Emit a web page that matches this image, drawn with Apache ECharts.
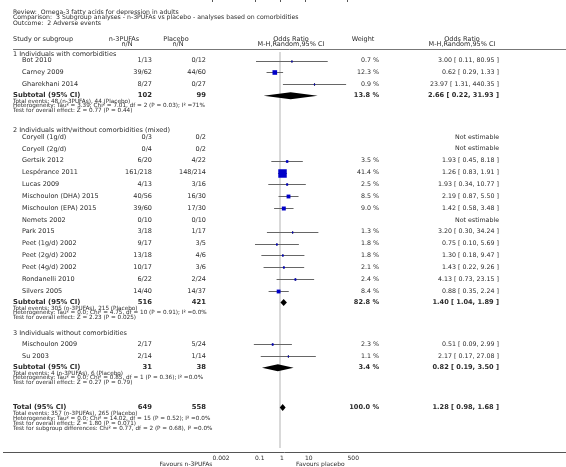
<!DOCTYPE html>
<html><head><meta charset="utf-8">
<script src="https://cdn.jsdelivr.net/npm/echarts@6/dist/echarts.min.js"></script>
<style>html,body{margin:0;padding:0;background:#fff}#c{width:566px;height:467px}</style>
</head><body><div id="c"></div>
<script>
// ---------------- DATA ----------------
const titleLines = [
  'Review:  Omega-3 fatty acids for depression in adults',
  'Comparison:  3 Subgroup analyses - n-3PUFAs vs placebo - analyses based on comorbidities',
  'Outcome:  2 Adverse events'
];
const groupTitles = [
  '1 Individuals with comorbidities',
  '2 Individuals with/without comorbidities (mixed)',
  '3 Individuals without comorbidities'
];
const studyNames = ['Bot 2010','Carney 2009','Gharekhani 2014',
  'Coryell (1g/d)','Coryell (2g/d)','Gertsik 2012','Lespérance 2011','Lucas 2009','Mischoulon (DHA) 2015','Mischoulon (EPA) 2015','Nemets 2002','Park 2015','Peet (1g/d) 2002','Peet (2g/d) 2002','Peet (4g/d) 2002','Rondanelli 2010','Silvers 2005',
  'Mischoulon 2009','Su 2003'];
const studyGroup = [0,0,0, 1,1,1,1,1,1,1,1,1,1,1,1,1,1, 2,2];
const expNN = ['1/13','39/62','8/27','0/3','0/4','6/20','161/218','4/13','40/56','39/60','0/10','3/18','9/17','13/18','10/17','6/22','14/40','2/17','2/14'];
const ctlNN = ['0/12','44/60','0/27','0/2','0/2','4/22','148/214','3/16','16/30','17/30','0/10','1/17','3/5','4/6','3/6','2/24','14/37','5/24','1/14'];
const studyWeight = [0.7,12.3,0.9, null,null,3.5,41.4,2.5,8.5,9.0,null,1.3,1.8,1.8,2.1,2.4,8.4, 2.3,1.1];
const studyOR = [3.00,0.62,23.97, null,null,1.93,1.26,1.93,2.19,1.42,null,3.20,0.75,1.30,1.43,4.13,0.88, 0.51,2.17];
const studyLo = [0.11,0.29,1.31, null,null,0.45,0.83,0.34,0.87,0.58,null,0.30,0.10,0.18,0.22,0.73,0.35, 0.09,0.17];
const studyHi = [80.95,1.33,440.35, null,null,8.18,1.91,10.77,5.50,3.48,null,34.24,5.69,9.47,9.26,23.15,2.24, 2.99,27.08];

const subExpN = [102,516,31];
const subCtlN = [99,421,38];
const subWeight = [13.8,82.8,3.4];
const subOR = [2.66,1.40,0.82];
const subLo = [0.22,1.04,0.19];
const subHi = [31.93,1.89,3.50];
const subEvExp = [48,305,4];
const subEvCtl = [44,215,6];
const subHet = [
  'Heterogeneity: Tau² = 3.39; Chi² = 7.01, df = 2 (P = 0.03); I² =71%',
  'Heterogeneity: Tau² = 0.0; Chi² = 4.75, df = 10 (P = 0.91); I² =0.0%',
  'Heterogeneity: Tau² = 0.0; Chi² = 0.85, df = 1 (P = 0.36); I² =0.0%'
];
const subTest = [
  'Test for overall effect: Z = 0.77 (P = 0.44)',
  'Test for overall effect: Z = 2.23 (P = 0.025)',
  'Test for overall effect: Z = 0.27 (P = 0.79)'
];
const totalExpN = 649, totalCtlN = 558, totalWeight = 100.0;
const totalOR = 1.28, totalLo = 0.98, totalHi = 1.68;
const totalEvExp = 357, totalEvCtl = 265;
const totalLines = [
  'Heterogeneity: Tau² = 0.0; Chi² = 14.02, df = 15 (P = 0.52); I² =0.0%',
  'Test for overall effect: Z = 1.80 (P = 0.071)',
  'Test for subgroup differences: Chi² = 0.77, df = 2 (P = 0.68), I² =0.0%'
];
const tickValues = [0.002, 0.1, 1, 10, 500];
const tickLabels = ['0.002','0.1','1','10','500'];
const favourLeft = 'Favours n-3PUFAs', favourRight = 'Favours placebo';

// ---------------- LAYOUT ----------------
const L = {
  titleY:[12,17.5,23], head1:39, head2:44.5, headLine:49.5,
  groupHeadY:[54,130,333.8],
  firstStudyGap:[6.5,7,10.5],
  studyStep:11.85,
  subGap:11.5, statGap1:5.6, statGap:4.7,
  totalY:407.5, totalGap1:6, totalGap:4.9, axisY:452,
  xName:13, xIndent:22, xExp:152, xCtl:206, xW:379, xOR:499,
  xHeadExp:124, xHeadCtl:176, xHeadPlot:291, xHeadW:363, xHeadOR:462,
  plotL:212.5, plotW:135
};
const FS = {title:6.2, body:6.5, num:6.3, stat:5.7, bold:6.8, boldNum:6.6, axis:6.0};
const F = s => s + 'px "DejaVu Sans"';
const FB = s => 'bold ' + s + 'px "DejaVu Sans"';
const TXT = '#2b2b2b';
const fmtOR = (e,l,h) => e.toFixed(2) + ' [ ' + l.toFixed(2) + ', ' + h.toFixed(2) + ' ]';

const graphics = [];
function T(x,y,text,font,align,fill){
  graphics.push({type:'text', x:x, y:y, silent:true, z:10,
    style:{text:text, font:font, fill:fill||TXT, align:align||'left', verticalAlign:'middle'}});
}
function LN(x1,y1,x2,y2,c,w){
  graphics.push({type:'line', silent:true, shape:{x1:x1,y1:y1,x2:x2,y2:y2}, style:{stroke:c, lineWidth:w||1}});
}

titleLines.forEach((t,i)=>T(L.xName, L.titleY[i], t, F(FS.title)));
T(L.xName, L.head1, 'Study or subgroup', F(FS.body));
T(L.xHeadExp, L.head1, 'n-3PUFAs', F(FS.body), 'center');
T(L.xHeadExp+3, L.head2, 'n/N', F(FS.body), 'center');
T(L.xHeadCtl, L.head1, 'Placebo', F(FS.body), 'center');
T(L.xHeadCtl+2, L.head2, 'n/N', F(FS.body), 'center');
T(L.xHeadPlot, L.head1, 'Odds Ratio', F(FS.body), 'center');
T(L.xHeadPlot, L.head2, 'M-H,Random,95% CI', F(FS.body), 'center');
T(L.xHeadW, L.head1, 'Weight', F(FS.body), 'center');
T(L.xHeadOR, L.head1, 'Odds Ratio', F(FS.body), 'center');
T(L.xHeadOR, L.head2, 'M-H,Random,95% CI', F(FS.body), 'center');
LN(L.xName, L.headLine, 566, L.headLine, '#777', 1);

const studyPts = [], diamondPts = [];
for (let g=0; g<groupTitles.length; g++){
  T(L.xName, L.groupHeadY[g], groupTitles[g], F(FS.body));
  let y = L.groupHeadY[g] + L.firstStudyGap[g];
  let first = true;
  for (let i=0;i<studyNames.length;i++){
    if (studyGroup[i]!==g) continue;
    if (!first) y += L.studyStep;
    first = false;
    T(L.xIndent, y, studyNames[i], F(FS.body));
    T(L.xExp, y, expNN[i], F(FS.body), 'right');
    T(L.xCtl, y, ctlNN[i], F(FS.body), 'right');
    if (studyWeight[i]==null){
      T(L.xOR, y, 'Not estimable', F(FS.num), 'right');
    } else {
      T(L.xW, y, studyWeight[i].toFixed(1)+' %', F(FS.num), 'right');
      T(L.xOR, y, fmtOR(studyOR[i],studyLo[i],studyHi[i]), F(FS.num), 'right');
      studyPts.push([studyOR[i], studyLo[i], studyHi[i], y, studyWeight[i]]);
    }
  }
  y += L.subGap;
  T(L.xName, y, 'Subtotal (95% CI)', FB(FS.bold));
  T(L.xExp, y, String(subExpN[g]), FB(FS.bold), 'right');
  T(L.xCtl, y, String(subCtlN[g]), FB(FS.bold), 'right');
  T(L.xW, y, subWeight[g].toFixed(1)+' %', FB(FS.boldNum), 'right');
  T(L.xOR, y, fmtOR(subOR[g],subLo[g],subHi[g]), FB(FS.boldNum), 'right');
  diamondPts.push([subOR[g], subLo[g], subHi[g], y]);
  y += L.statGap1;
  T(L.xName, y, 'Total events: '+subEvExp[g]+' (n-3PUFAs), '+subEvCtl[g]+' (Placebo)', F(FS.stat));
  y += L.statGap;
  T(L.xName, y, subHet[g], F(FS.stat));
  y += L.statGap;
  T(L.xName, y, subTest[g], F(FS.stat));
}
// total
let ty = L.totalY;
T(L.xName, ty, 'Total (95% CI)', FB(FS.bold));
T(L.xExp, ty, String(totalExpN), FB(FS.bold), 'right');
T(L.xCtl, ty, String(totalCtlN), FB(FS.bold), 'right');
T(L.xW, ty, totalWeight.toFixed(1)+' %', FB(FS.boldNum), 'right');
T(L.xOR, ty, fmtOR(totalOR,totalLo,totalHi), FB(FS.boldNum), 'right');
diamondPts.push([totalOR, totalLo, totalHi, ty]);
ty += L.totalGap1;
T(L.xName, ty, 'Total events: '+totalEvExp+' (n-3PUFAs), '+totalEvCtl+' (Placebo)', F(FS.stat));
totalLines.forEach(t=>{ ty += L.totalGap; T(L.xName, ty, t, F(FS.stat)); });

// axis baseline (full width) and favours labels
LN(3, L.axisY+0.5, 566, L.axisY+0.5, '#555', 1);
T(L.plotL, L.axisY+12.5, favourLeft, F(FS.axis), 'right');
T(296, L.axisY+12.5, favourRight, F(FS.axis), 'left');

const chart = echarts.init(document.getElementById('c'), null, {renderer:'canvas'});
chart.setOption({
  animation:false,
  backgroundColor:'#fff',
  grid:{left:L.plotL, width:L.plotW, top:0, height:L.axisY},
  xAxis:{type:'log', logBase:10, min:tickValues[0], max:tickValues[tickValues.length-1],
    axisLine:{show:false}, splitLine:{show:false}, minorTick:{show:false},
    axisTick:{show:true, length:2, customValues:tickValues, lineStyle:{color:'#555', width:1}},
    axisLabel:{customValues:tickValues, margin:3, align:'left', fontSize:FS.axis, fontFamily:'DejaVu Sans', color:TXT,
      formatter:v=>{ const i = tickValues.findIndex(t=>Math.abs(Math.log10(t)-Math.log10(v))<1e-6); return i>=0?tickLabels[i]:''; }}
  },
  yAxis:{type:'value', min:0, max:L.axisY, inverse:true, show:false},
  series:[
    {type:'line', data:[[1,52],[1,448]], symbol:'none', silent:true, z:1,
      lineStyle:{color:'#d9d9d9', width:2}},
    {type:'custom', z:5, silent:true, clip:false, data:studyPts, encode:{x:[0,1,2], y:3},
      renderItem:(params, api)=>{
        const y = api.value(3);
        const pL = api.coord([api.value(1), y]), pH = api.coord([api.value(2), y]), pE = api.coord([api.value(0), y]);
        const s = Math.max(1.4, 1.32*Math.sqrt(api.value(4)));
        const yy = Math.round(pE[1]) + 0.5;
        return {type:'group', children:[
          {type:'line', shape:{x1:pL[0], y1:yy, x2:pH[0], y2:yy}, style:{stroke:'#666', lineWidth:1}},
          {type:'line', shape:{x1:pE[0], y1:yy-1.5, x2:pE[0], y2:yy+1.5}, style:{stroke:'#555', lineWidth:1}},
          {type:'rect', shape:{x:pE[0]-s/2, y:yy-s/2, width:s, height:s}, style:{fill:'#0000c8'}}
        ]};
      }},
    {type:'custom', z:5, silent:true, clip:false, data:diamondPts, encode:{x:[0,1,2], y:3},
      renderItem:(params, api)=>{
        const y = api.value(3);
        const pL = api.coord([api.value(1), y]), pH = api.coord([api.value(2), y]), pE = api.coord([api.value(0), y]);
        const h = 3.5;
        return {type:'polygon', shape:{points:[[pL[0],pE[1]],[pE[0],pE[1]-h],[pH[0],pE[1]],[pE[0],pE[1]+h]]},
          style:{fill:'#000'}};
      }}
  ],
  graphic:graphics
});
</script></body></html>
